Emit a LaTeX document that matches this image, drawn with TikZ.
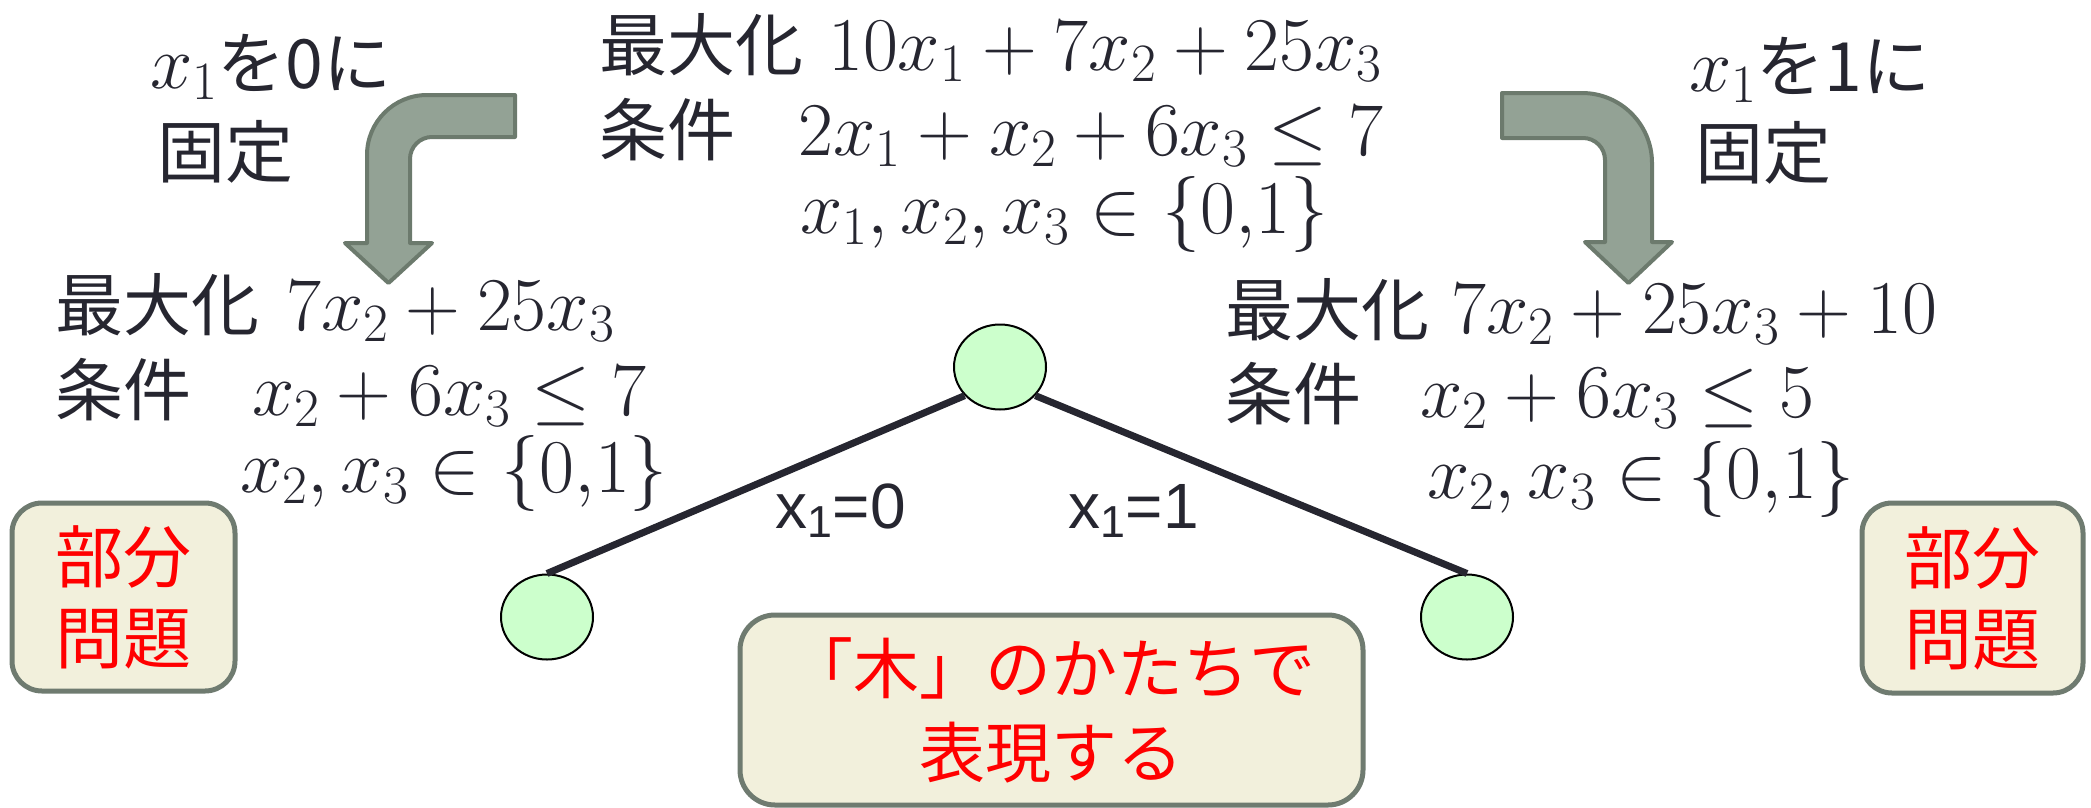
\documentclass[tikz,border=0pt]{standalone}
\usepackage{fix-cm}
\usepackage{fontspec}
\newfontfamily\jpfont{Noto Sans CJK JP}
\newfontfamily\arialfont{Liberation Sans}
\usetikzlibrary{shapes.geometric}
\DeclareMathSizes{76}{76}{54}{40}
\definecolor{txt}{HTML}{262630}
\definecolor{arrfill}{HTML}{93A295}
\definecolor{arrline}{HTML}{6C7A6D}
\definecolor{boxfill}{HTML}{F2F0DC}
\definecolor{boxline}{HTML}{6F7B70}
\definecolor{leaffill}{HTML}{CCFFCC}
\begin{document}
\begin{tikzpicture}[x=1pt,y=-1pt,
  jp/.style={font=\jpfont\fontsize{68}{80}\selectfont, text=txt, inner sep=0pt, anchor=base west},
  mth/.style={font=\fontsize{76}{84}\selectfont, text=txt, inner sep=0pt, anchor=base west},
  lbl/.style={font=\arialfont\fontsize{64}{70}\selectfont, text=txt, inner sep=0pt, anchor=base west},
  bentarrow/.style={fill=arrfill, draw=arrline, line width=4pt, line join=round},
  subbox/.style={draw=boxline, fill=boxfill, line width=5pt, rounded corners=30pt, font=\jpfont\fontsize{68}{81}\selectfont, text=red, align=center, inner sep=0pt},
  treenode/.style={ellipse, draw=black, line width=2pt, fill=leaffill, minimum width=92pt, minimum height=85pt, inner sep=0pt},
  branch/.style={draw=txt, line width=7pt}
]
\useasboundingbox (0,0) rectangle (2091,807);

% bent arrows
\draw[bentarrow] (515,95) -- (427,95) arc[start angle=270, end angle=180, radius=60]
  -- (367,243) -- (345,243) -- (388.5,283) -- (432,243) -- (410,243) -- (410,159)
  arc[start angle=180, end angle=270, radius=22] -- (515,137) -- cycle;
\draw[bentarrow] (1502,93) -- (1582,93) arc[start angle=270, end angle=360, radius=70]
  -- (1652,242) -- (1672,242) -- (1628.5,283) -- (1585,242) -- (1605,242) -- (1605,160)
  arc[start angle=0, end angle=-90, radius=22] -- (1502,138) -- cycle;

% fix labels
\node[jp] (fixL1) at (150,88) {{\fontsize{76}{84}\selectfont$x_1$}を0に};
\node[jp] (fixL2) at (157,177) {固定};
\node[jp] (fixR1) at (1689,91) {{\fontsize{76}{84}\selectfont$x_1$}を1に};
\node[jp] (fixR2) at (1695,178) {固定};

% top problem
\node[jp] (t1a) at (599,70) {最大化};
\node[mth] (t1b) at (828,70) {$10x_1+7x_2+25x_3$};
\node[jp] (t2a) at (599,155) {条件};
\node[mth] (t2b) at (798,155) {$2x_1+x_2+6x_3\le 7$};
\node[mth] (t3) at (800,233) {$x_1,x_2,x_3\in\{0{,}1\}$};

% left subproblem
\node[jp] (l1a) at (55,330) {最大化};
\node[mth] (l1b) at (286,330) {$7x_2+25x_3$};
\node[jp] (l2a) at (55,415) {条件};
\node[mth] (l2b) at (252,415) {$x_2+6x_3\le 7$};
\node[mth] (l3) at (240,492) {$x_2,x_3\in\{0{,}1\}$};

% right subproblem
\node[jp] (r1a) at (1225,335) {最大化};
\node[mth] (r1b) at (1451,333) {$7x_2+25x_3+10$};
\node[jp] (r2a) at (1225,419) {条件};
\node[mth] (r2b) at (1420,417) {$x_2+6x_3\le 5$};
\node[mth] (r3) at (1427,498) {$x_2,x_3\in\{0{,}1\}$};

% boxes
\node[subbox, minimum width=223pt, minimum height=188pt] (subL) at (123.5,597) {部分\\問題};
\node[subbox, minimum width=221pt, minimum height=190pt] (subR) at (1972.5,598) {部分\\問題};
\node[subbox, rounded corners=35pt, font=\jpfont\fontsize{66}{84}\selectfont, minimum width=623pt, minimum height=190pt] (treebox) at (1051.5,710) {「木」のかたちで\\表現する};

% tree
\node[treenode] (root) at (1000,367) {};
\node[treenode] (leafL) at (547,617) {};
\node[treenode] (leafR) at (1467,617) {};
\draw[branch] (root.-141) -- (leafL.north);
\draw[branch] (root.-39) -- (leafR.north);
\node[lbl] (lab0) at (775,528) {x\textsubscript{1}=0};
\node[lbl] (lab1) at (1068,528) {x\textsubscript{1}=1};
\end{tikzpicture}
\end{document}
